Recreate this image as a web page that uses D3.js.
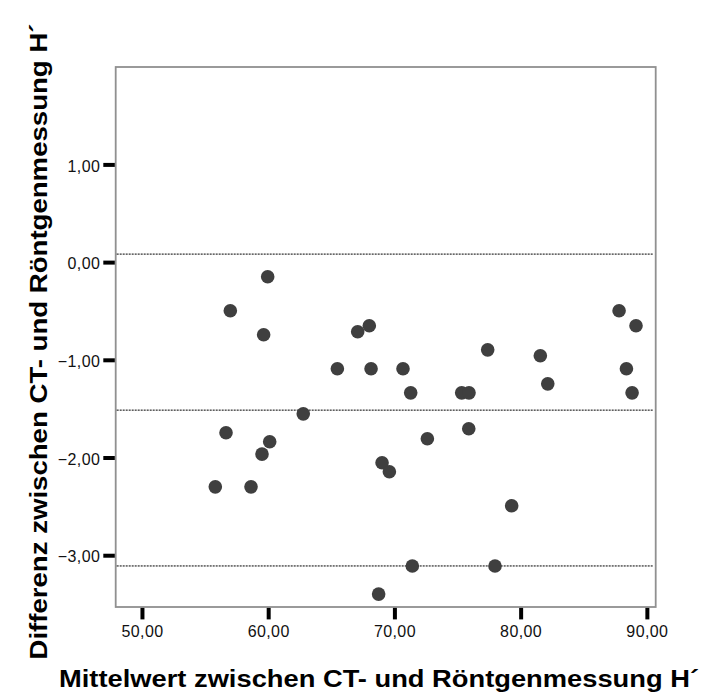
<!DOCTYPE html>
<html>
<head>
<meta charset="utf-8">
<script src="https://cdn.jsdelivr.net/npm/d3@7"></script>
<style>
  html, body { margin: 0; padding: 0; background: #fff; }
  svg { display: block; }
</style>
</head>
<body>
<svg id="chart" width="703" height="695"></svg>
<script>
// ---- data ----
const meanValues = [59.96, 57.0, 59.64, 67.09, 68.01, 65.48, 68.15, 62.78,
                    70.68, 71.29, 75.33, 75.91, 77.39, 81.56, 82.15, 87.80,
                    89.14, 88.38, 88.83, 56.66, 60.12, 59.51, 55.81, 58.64,
                    69.02, 69.60, 68.75, 72.61, 75.89, 79.29, 71.42, 77.97];
const diffValues = [-0.150, -0.498, -0.744, -0.713, -0.652, -1.092, -1.092, -1.553,
                    -1.092, -1.338, -1.338, -1.338, -0.898, -0.959, -1.246, -0.498,
                    -0.652, -1.092, -1.338, -1.747, -1.839, -1.965, -2.300, -2.300,
                    -2.054, -2.146, -3.398, -1.808, -1.706, -2.494, -3.110, -3.110];
const referenceLines = [0.082, -1.515, -3.110]; // upper limit, mean, lower limit
const xTicks = [50, 60, 70, 80, 90];
const yTicks = [1, 0, -1, -2, -3];
const xTitle = "Mittelwert zwischen CT- und Röntgenmessung H\u00B4";
const yTitle = "Differenz zwischen CT- und Röntgenmessung H\u00B4";

(function () {
// ---- layout ----
const svg = d3.select("#chart");
const pLeft = 115.7, pRight = 655.7, pTop = 67, pBottom = 607;

const x = d3.scaleLinear().domain([47.92, 90.7]).range([pLeft, pRight]);
const y = d3.scaleLinear().domain([-3.53, 1.997]).range([pBottom, pTop]);

const fmt = v => d3.format(".2f")(v).replace(".", ",");

// plot frame
svg.append("rect")
  .attr("x", pLeft).attr("y", pTop)
  .attr("width", pRight - pLeft).attr("height", pBottom - pTop)
  .attr("fill", "none").attr("stroke", "#909090").attr("stroke-width", 1.8);

// reference lines
svg.append("g").selectAll("line").data(referenceLines).join("line")
  .attr("x1", pLeft + 1).attr("x2", pRight - 2)
  .attr("y1", d => y(d)).attr("y2", d => y(d))
  .attr("stroke", "#000").attr("stroke-width", 1)
  .attr("stroke-dasharray", "2,1");

// axes
const tickFont = "'Liberation Sans', Arial, sans-serif";
const yAxis = svg.append("g")
  .attr("transform", `translate(${pLeft - 0.9},0)`)
  .call(d3.axisLeft(y).tickValues(yTicks).tickFormat(fmt).tickSize(11.5).tickPadding(3));
const xAxis = svg.append("g")
  .attr("transform", `translate(0,${pBottom + 0.9})`)
  .call(d3.axisBottom(x).tickValues(xTicks).tickFormat(fmt).tickSize(11.5).tickPadding(6));

[yAxis, xAxis].forEach(g => {
  g.select(".domain").remove();
  g.selectAll(".tick line").attr("stroke", "#000").attr("stroke-width", 4);
  g.selectAll(".tick text")
    .attr("fill", "#111")
    .style("font-family", tickFont)
    .style("font-size", "16px")
    .style("letter-spacing", "0.4px");
});
yAxis.selectAll(".tick text").attr("dy", "0.42em");

// points
svg.append("g").selectAll("circle").data(meanValues).join("circle")
  .attr("cx", (d) => x(d))
  .attr("cy", (d, i) => y(diffValues[i]))
  .attr("r", 6.8)
  .attr("fill", "#3f3f3f");

// titles
svg.append("text")
  .attr("x", 59).attr("y", 686.5)
  .attr("textLength", 640).attr("lengthAdjust", "spacingAndGlyphs")
  .style("font-family", tickFont).style("font-weight", "bold")
  .style("font-size", "23px").attr("fill", "#000")
  .text(xTitle);

svg.append("text")
  .attr("transform", "translate(46.5,659.5) rotate(-90)")
  .attr("x", 0).attr("y", 0)
  .attr("textLength", 636).attr("lengthAdjust", "spacingAndGlyphs")
  .style("font-family", tickFont).style("font-weight", "bold")
  .style("font-size", "23px").attr("fill", "#000")
  .text(yTitle);
})();
</script>
</body>
</html>
